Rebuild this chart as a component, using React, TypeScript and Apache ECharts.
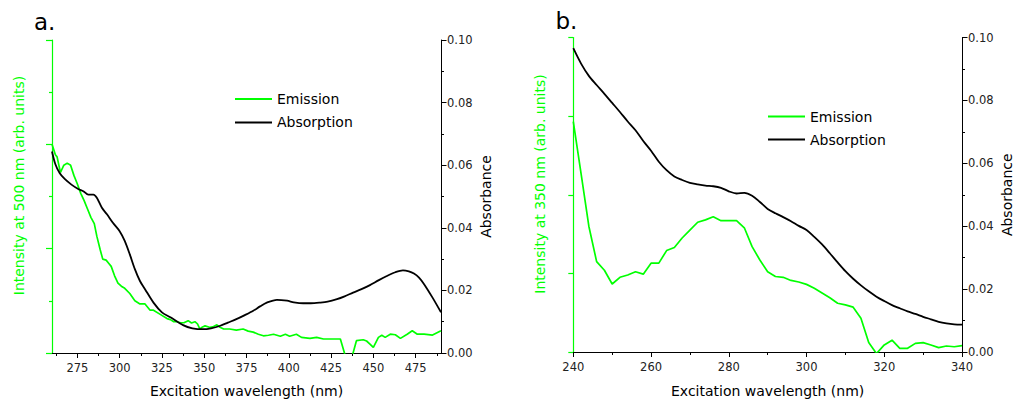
import React, { useEffect, useRef } from "react";
import * as echarts from "echarts";

// ---------- Panel a data ----------
const emissionAWavelengths = [260,262,263,265,267,269,271,273,275,277,279,281,283,285,286.5,288.5,290,292,293.5,295,297,299,301,303,306,309,312,315,318,320,324,328,330,332,334,336,338,340.5,342.5,344.5,346,347.5,349,350.5,353.5,355,357.5,359,361.5,365,369,373,376,379,382,385,388,391,393,395,398,400.5,404.5,407.5,410,412.5,416.5,420.5,426,430.5,434,437,440,444,446,448,450,453,455,457,460,463,466,470,473,476,480,485,490];
const emissionAValues = [2.0,1.9,1.88,1.73,1.8,1.82,1.8,1.7,1.62,1.53,1.46,1.38,1.3,1.24,1.12,0.99,0.9,0.89,0.86,0.83,0.74,0.67,0.64,0.62,0.57,0.5,0.47,0.47,0.41,0.41,0.37,0.33,0.32,0.3,0.3,0.29,0.29,0.31,0.287,0.3,0.28,0.23,0.25,0.26,0.245,0.25,0.27,0.25,0.23,0.23,0.22,0.23,0.21,0.2,0.18,0.165,0.17,0.18,0.17,0.16,0.18,0.16,0.18,0.15,0.145,0.14,0.15,0.134,0.134,0.134,-0.06,-0.06,0.118,0.127,0.115,0.086,0.054,0.15,0.17,0.15,0.18,0.175,0.14,0.18,0.213,0.18,0.18,0.172,0.213];

const absorptionAWavelengths = [260,262,264.5,267.5,271.5,275.5,278.5,281.5,284.5,286.5,289.5,292.5,296,300,303,306,309,312,315,320,325,330,337.5,343,349.5,354,359.5,364,369,374,379,383,387,393,399,403,408.5,413,418.5,423,428.5,433,438,443,448,453,458,463,467.5,471,474,477,480,485,490];
const absorptionAValues = [0.0644,0.0603,0.0575,0.0556,0.0538,0.0524,0.0517,0.0506,0.0506,0.0496,0.0464,0.0443,0.0416,0.0389,0.0358,0.0315,0.0268,0.023,0.0204,0.0161,0.013,0.0114,0.0089,0.0079,0.0076,0.0079,0.0087,0.0097,0.0108,0.0121,0.0135,0.0149,0.0161,0.017,0.0167,0.0162,0.0159,0.0159,0.0161,0.0164,0.0172,0.0181,0.0193,0.0204,0.0217,0.0232,0.0246,0.0258,0.0264,0.0261,0.0254,0.0241,0.022,0.0177,0.013];

const xTicksA = [275, 300, 325, 350, 375, 400, 425, 450, 475];
const xMinorTicksA = [262.5, 287.5, 312.5, 337.5, 362.5, 387.5, 412.5, 437.5, 462.5, 487.5];

// ---------- Panel b data ----------
const wavelengthsB = [240,242,244,246,248,250,252,254,256,258,260,262,264,266,268,270,272,274,276,278,280,282,284,286,288,290,292,294,296,298,300,302,304,306,308,310,312,314,316,318,320,322,324,326,328,330,332,334,336,338,340];
const emissionBValues = [2.93,2.27,1.6,1.15,1.04,0.865,0.95,0.98,1.02,0.99,1.13,1.13,1.29,1.33,1.45,1.55,1.65,1.68,1.72,1.67,1.67,1.67,1.58,1.34,1.17,1.02,0.96,0.95,0.91,0.89,0.86,0.81,0.75,0.69,0.62,0.6,0.57,0.43,0.12,-0.02,0.09,0.15,0.047,0.047,0.11,0.12,0.089,0.055,0.076,0.067,0.08];
const absorptionBValues = [0.0966,0.0917,0.0878,0.0849,0.0821,0.0792,0.0763,0.0733,0.0705,0.0671,0.064,0.0605,0.0578,0.0558,0.0547,0.0538,0.0533,0.0529,0.0527,0.0522,0.0511,0.0504,0.0506,0.0497,0.0477,0.0455,0.0441,0.0429,0.0416,0.0401,0.0388,0.0366,0.0342,0.0314,0.0285,0.0257,0.0233,0.0212,0.0193,0.0176,0.0162,0.0149,0.0139,0.0129,0.0121,0.0112,0.0104,0.0096,0.0091,0.0088,0.0087];

const seriesNames = ["Emission", "Absorption"];
const panelLabels = ["a.", "b."];
const xTitle = "Excitation wavelength (nm)";
const yRightTitle = "Absorbance";
const yLeftTitles = ["Intensity at 500 nm (arb. units)", "Intensity at 350 nm (arb. units)"];

const zip = (xs: number[], ys: number[]) =>
  xs.slice(0, Math.min(xs.length, ys.length)).map((x, i) => [x, ys[i]]);

const GREEN = "#00ff00";
const FONT = "DejaVu Sans";

export default function App() {
  const ref = useRef<HTMLDivElement>(null);

  useEffect(() => {
    if (!ref.current) return;
    const chart = echarts.init(ref.current, undefined, { renderer: "svg" });

    const labelStyle = { color: "#222", fontSize: 11.5, fontFamily: FONT };
    const nameStyle = { color: "#000", fontSize: 14, fontFamily: FONT };
    const blackLine = { lineStyle: { color: "#000", width: 1 } };
    const greenLine = { lineStyle: { color: GREEN, width: 1.2 } };

    const rightY = (gridIndex: number) => ({
      type: "value",
      gridIndex,
      position: "right",
      min: 0,
      max: 0.1,
      interval: 0.02,
      name: yRightTitle,
      nameLocation: "middle",
      nameRotate: 90,
      nameGap: 38,
      nameTextStyle: nameStyle,
      axisLine: { show: true, ...blackLine },
      axisTick: { show: true, length: 5.5, ...blackLine },
      minorTick: { show: true, splitNumber: 2, length: 3, ...blackLine },
      axisLabel: { ...labelStyle, margin: 6, formatter: (v: number) => v.toFixed(2) },
      splitLine: { show: false },
    });

    const legendData = [
      { name: seriesNames[0], itemStyle: { color: GREEN } },
      { name: seriesNames[1], itemStyle: { color: "#000" } },
    ];

    const legendBase = {
      orient: "vertical",
      padding: 0,
      icon: "rect",
      itemWidth: 37,
      itemHeight: 2,
      textStyle: { fontSize: 14, fontFamily: FONT, color: "#000", padding: [0, 0, 0, 0] },
      data: legendData,
      selectedMode: false,
    };

    const option: any = {
      animation: false,
      backgroundColor: "#fff",
      grid: [
        { left: 52, top: 40, width: 389, height: 314 },
        { left: 573.3, top: 37.5, width: 390, height: 314.5 },
      ],
      xAxis: [
        {
          type: "value",
          gridIndex: 0,
          position: "bottom",
          min: 260,
          max: 490,
          name: xTitle,
          nameLocation: "middle",
          nameGap: 31,
          nameTextStyle: nameStyle,
          axisLine: { show: true, onZero: false, ...blackLine },
          axisTick: { show: true, length: 5, customValues: xTicksA, ...blackLine },
          axisLabel: { ...labelStyle, margin: 9, customValues: xTicksA },
          splitLine: { show: false },
        },
        {
          type: "value",
          gridIndex: 0,
          position: "bottom",
          min: 260,
          max: 490,
          axisLine: { show: false, onZero: false },
          axisTick: { show: true, length: 3, customValues: xMinorTicksA, ...blackLine },
          axisLabel: { show: false },
          splitLine: { show: false },
        },
        {
          type: "value",
          gridIndex: 1,
          position: "bottom",
          min: 240,
          max: 340,
          interval: 20,
          name: xTitle,
          nameLocation: "middle",
          nameGap: 32,
          nameTextStyle: nameStyle,
          axisLine: { show: true, onZero: false, ...blackLine },
          axisTick: { show: true, length: 5, ...blackLine },
          minorTick: { show: true, splitNumber: 2, length: 3, ...blackLine },
          axisLabel: { ...labelStyle, margin: 9 },
          splitLine: { show: false },
        },
      ],
      yAxis: [
        {
          type: "value",
          gridIndex: 0,
          position: "left",
          min: 0,
          max: 3,
          interval: 1,
          axisLine: { show: true, onZero: false, ...greenLine },
          axisTick: { show: true, length: 6, ...greenLine },
          minorTick: { show: true, splitNumber: 2, length: 3, ...greenLine },
          axisLabel: { show: false },
          splitLine: { show: false },
        },
        rightY(0),
        {
          type: "value",
          gridIndex: 1,
          position: "left",
          min: 0,
          max: 4,
          interval: 1,
          axisLine: { show: true, onZero: false, ...greenLine },
          axisTick: { show: true, length: 5, ...greenLine },
          axisLabel: { show: false },
          splitLine: { show: false },
        },
        rightY(1),
      ],
      legend: [
        { ...legendBase, left: 235, top: 92, itemGap: 9.4 },
        { ...legendBase, left: 768, top: 109.5, itemGap: 9 },
      ],
      series: [
        {
          name: seriesNames[0],
          type: "line",
          xAxisIndex: 0,
          yAxisIndex: 0,
          data: zip(emissionAWavelengths, emissionAValues),
          symbol: "none",
          clip: true,
          lineStyle: { color: GREEN, width: 1.7 },
          itemStyle: { color: GREEN },
        },
        {
          name: seriesNames[1],
          type: "line",
          xAxisIndex: 0,
          yAxisIndex: 1,
          data: zip(absorptionAWavelengths, absorptionAValues),
          symbol: "none",
          smooth: 0.3,
          clip: true,
          lineStyle: { color: "#000", width: 1.8 },
          itemStyle: { color: "#000" },
        },
        {
          name: seriesNames[0],
          type: "line",
          xAxisIndex: 2,
          yAxisIndex: 2,
          data: zip(wavelengthsB, emissionBValues),
          symbol: "none",
          clip: true,
          lineStyle: { color: GREEN, width: 1.7 },
          itemStyle: { color: GREEN },
        },
        {
          name: seriesNames[1],
          type: "line",
          xAxisIndex: 2,
          yAxisIndex: 3,
          data: zip(wavelengthsB, absorptionBValues),
          symbol: "none",
          smooth: 0.3,
          clip: true,
          lineStyle: { color: "#000", width: 1.8 },
          itemStyle: { color: "#000" },
        },
      ],
      graphic: [
        {
          type: "text",
          x: 34,
          y: 21.5,
          style: {
            text: panelLabels[0],
            fill: "#000",
            fontSize: 23,
            fontFamily: FONT,
            textAlign: "left",
            textVerticalAlign: "middle",
          },
        },
        {
          type: "text",
          x: 555.5,
          y: 21,
          style: {
            text: panelLabels[1],
            fill: "#000",
            fontSize: 23,
            fontFamily: FONT,
            textAlign: "left",
            textVerticalAlign: "middle",
          },
        },
        {
          type: "text",
          x: 18.5,
          y: 185.5,
          rotation: Math.PI / 2,
          style: {
            text: yLeftTitles[0],
            fill: GREEN,
            fontSize: 14,
            fontFamily: FONT,
            textAlign: "center",
            textVerticalAlign: "middle",
          },
        },
        {
          type: "text",
          x: 540,
          y: 184,
          rotation: Math.PI / 2,
          style: {
            text: yLeftTitles[1],
            fill: GREEN,
            fontSize: 14,
            fontFamily: FONT,
            textAlign: "center",
            textVerticalAlign: "middle",
          },
        },
      ],
    };

    chart.setOption(option);
    return () => chart.dispose();
  }, []);

  return (
    <div
      ref={ref}
      style={{ position: "fixed", left: 0, top: 0, width: 1015, height: 403, background: "#fff" }}
    />
  );
}
